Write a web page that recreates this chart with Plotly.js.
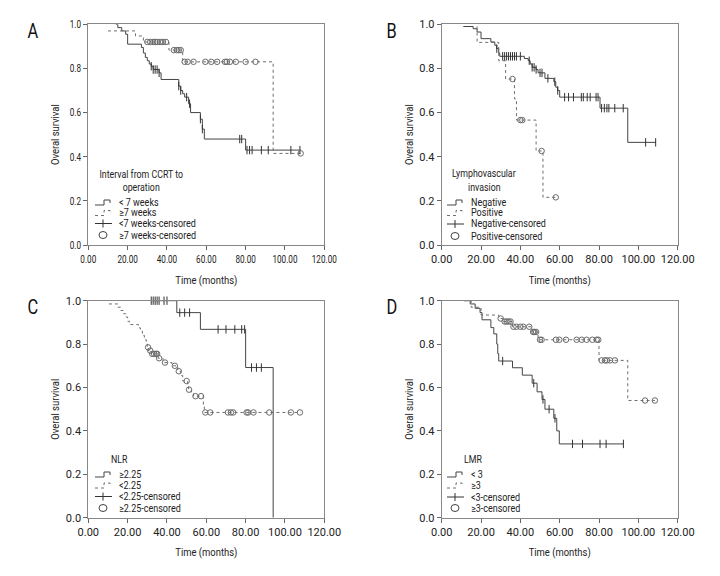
<!DOCTYPE html>
<html><head><meta charset="utf-8">
<script src="https://cdn.plot.ly/plotly-3.0.1.min.js"></script>
<style>html,body{margin:0;padding:0;background:#fff}#chart{width:720px;height:576px}</style>
</head><body><div id="chart"></div>
<script>
// ---------- Panel A: Interval from CCRT to operation ----------
const A_lt7_t = [14, 15, 17, 19, 20, 27, 28, 29, 30, 31, 32, 33, 36, 37, 46, 47, 48, 49, 51, 52, 57, 58, 59, 80, 108];
const A_lt7_s = [1.0, 0.985, 0.97, 0.955, 0.91, 0.895, 0.87, 0.85, 0.835, 0.82, 0.81, 0.795, 0.78, 0.75, 0.72, 0.70, 0.685, 0.67, 0.64, 0.60, 0.57, 0.525, 0.48, 0.43, 0.43];
const A_lt7_cens = [32, 33, 34, 35, 36, 46, 47, 50, 51.5, 57, 58, 77, 78, 80.7, 82, 83.3, 88, 91.5, 103, 107.6];
const A_ge7_t = [10, 24, 28, 41, 48, 94, 108];
const A_ge7_s = [0.97, 0.947, 0.92, 0.883, 0.83, 0.415, 0.415];
const A_ge7_cens = [30, 31.5, 33, 34, 35, 36.5, 38, 39.5, 43.5, 45, 46, 47, 49, 50.5, 53.5, 59.5, 62.5, 65.5, 69.5, 70.5, 72, 75, 80, 85, 108];

// ---------- Panel B: Lymphovascular invasion ----------
const B_neg_t = [11, 16, 18, 20, 25, 27, 28, 29, 29.5, 42, 44, 45, 46, 48, 49, 52.5, 57, 58, 59, 60, 80.5, 94.6, 109];
const B_neg_s = [0.99, 0.98, 0.965, 0.935, 0.92, 0.905, 0.89, 0.87, 0.855, 0.845, 0.835, 0.82, 0.805, 0.795, 0.78, 0.755, 0.74, 0.715, 0.70, 0.67, 0.62, 0.465, 0.465];
const B_neg_cens = [28, 31, 32, 33, 34, 35, 36, 37, 38, 40, 44.5, 46, 47, 48, 50, 51, 54, 57.5, 59, 62.5, 64.5, 67, 71, 72, 74, 75.5, 78.5, 79.5, 81.3, 82.7, 84, 85, 88, 92.3, 103.7, 108.8];
const B_pos_t = [18, 18, 29, 32.5, 37, 38, 48, 51.5, 58];
const B_pos_s = [0.99, 0.918, 0.835, 0.752, 0.662, 0.566, 0.426, 0.216, 0.216];
const B_pos_cens = [36, 40, 41, 50.8, 58];

// ---------- Panel C: NLR ----------
const C_hi_t = [32, 45, 57, 80, 94];
const C_hi_s = [1.0, 0.945, 0.868, 0.692, 0.0];
const C_hi_cens = [32, 33, 34, 35, 36, 38.5, 40, 46.5, 49, 51.5, 66, 70, 74.5, 78, 79.5, 83, 85.5, 88];
const C_lo_t = [10.5, 15, 16.5, 18, 19, 20, 21, 25.5, 26.5, 27.5, 28.5, 29.5, 30, 30.5, 32, 35.5, 38, 42.5, 45.5, 47, 48, 50.5, 51, 52.5, 53.5, 58.5, 59, 108];
const C_lo_s = [0.985, 0.97, 0.955, 0.94, 0.925, 0.905, 0.89, 0.875, 0.86, 0.84, 0.82, 0.80, 0.785, 0.77, 0.755, 0.735, 0.715, 0.70, 0.675, 0.655, 0.63, 0.615, 0.59, 0.575, 0.56, 0.52, 0.485, 0.485];
const C_lo_cens = [30.4, 31.5, 32.5, 33.5, 34.5, 35, 36, 39, 44, 46, 50, 51.2, 54.5, 57.3, 59.5, 62, 71, 72.5, 73.7, 80.5, 81.3, 84, 92, 103, 107.6];

// ---------- Panel D: LMR ----------
const D_lo_t = [11.5, 14.5, 17, 19.5, 20.5, 25, 26.5, 28, 28.5, 29, 36, 41, 46, 48.5, 51, 52.5, 57, 58.5, 59.8, 92.4];
const D_lo_s = [1.0, 0.985, 0.965, 0.945, 0.912, 0.876, 0.847, 0.80, 0.756, 0.722, 0.691, 0.657, 0.62, 0.58, 0.545, 0.50, 0.458, 0.40, 0.34, 0.34];
const D_lo_cens = [31, 46.8, 51.5, 54.6, 57.6, 66.5, 71.6, 80.5, 83.6, 92.4];
const D_hi_t = [11.5, 15, 20, 29, 31, 36, 46, 49, 80, 94.6, 108.4];
const D_hi_s = [1.0, 0.97, 0.934, 0.918, 0.904, 0.88, 0.856, 0.82, 0.725, 0.54, 0.54];
const D_hi_cens = [30, 32, 33, 34, 35, 36.5, 38, 40, 41.5, 44.5, 46.5, 47.2, 48, 50, 50.8, 58.1, 59.8, 63.2, 68.6, 71.2, 73.7, 76.6, 78.8, 79.6, 81.3, 83, 84, 85.6, 88.1, 103.4, 108.4];

// ---------- Labels ----------
const panelLetters = ["A", "B", "C", "D"];
const legendTitles = [["Interval from CCRT to", "operation"], ["Lymphovascular", "invasion"], ["NLR"], ["LMR"]];
const legendLabels = [
  ["< 7 weeks", "≥7 weeks", "<7 weeks-censored", "≥7 weeks-censored"],
  ["Negative", "Positive", "Negative-censored", "Positive-censored"],
  ["≥2.25", "<2.25", "<2.25-censored", "≥2.25-censored"],
  ["< 3", "≥3", "<3-censored", "≥3-censored"]
];
const xTickVals = [0, 20, 40, 60, 80, 100, 120];
const yTickVals = [0, 0.2, 0.4, 0.6, 0.8, 1.0];
const xTitle = "Time (months)";
const yTitle = "Overal survival";

// ---------- Build ----------
const FONT = "Roboto, 'Liberation Sans', sans-serif";
const W = 720, H = 576;
const px = x => x / W, py = y => 1 - y / H;

function survAt(t, ts, ss) {
  let v = ss[0];
  for (let i = 0; i < ts.length; i++) { if (ts[i] <= t) v = ss[i]; }
  return v;
}

const panels = [
  {solid: [A_lt7_t, A_lt7_s, A_lt7_cens], dotted: [A_ge7_t, A_ge7_s, A_ge7_cens]},
  {solid: [B_neg_t, B_neg_s, B_neg_cens], dotted: [B_pos_t, B_pos_s, B_pos_cens]},
  {solid: [C_hi_t, C_hi_s, C_hi_cens], dotted: [C_lo_t, C_lo_s, C_lo_cens]},
  {solid: [D_lo_t, D_lo_s, D_lo_cens], dotted: [D_hi_t, D_hi_s, D_hi_cens]}
];

const SOLID = "#444", DOT = "#6e6e6e", CIRC = "#6a6a6a";
const traces = [];
panels.forEach((p, i) => {
  const xa = i === 0 ? "x" : "x" + (i + 1), ya = i === 0 ? "y" : "y" + (i + 1);
  traces.push({x: p.solid[0], y: p.solid[1], xaxis: xa, yaxis: ya, type: "scatter", mode: "lines",
    line: {shape: "hv", color: SOLID, width: 1}, showlegend: false, cliponaxis: false});
  traces.push({x: p.dotted[0], y: p.dotted[1], xaxis: xa, yaxis: ya, type: "scatter", mode: "lines",
    line: {shape: "hv", color: DOT, width: 1, dash: "dot"}, showlegend: false, cliponaxis: false});
  traces.push({x: p.solid[2], y: p.solid[2].map(t => survAt(t, p.solid[0], p.solid[1])), xaxis: xa, yaxis: ya,
    type: "scatter", mode: "markers", marker: {symbol: "line-ns-open", size: 6, color: "#333", line: {color: "#333", width: 1}},
    showlegend: false, cliponaxis: false});
  traces.push({x: p.dotted[2], y: p.dotted[2].map(t => survAt(t, p.dotted[0], p.dotted[1])), xaxis: xa, yaxis: ya,
    type: "scatter", mode: "markers", marker: {symbol: "circle-open", size: 5.5, color: CIRC, line: {color: CIRC, width: 1}},
    showlegend: false, cliponaxis: false});
});

const xDomL = [px(88.3), px(324.3)], xDomR = [px(441.7), px(677.7)];
const yDomT = [py(245), py(24.3)], yDomB = [py(517.7), py(300.7)];
const doms = [[xDomL, yDomT], [xDomR, yDomT], [xDomL, yDomB], [xDomR, yDomB]];

const layout = {
  width: W, height: H, margin: {l: 0, r: 0, t: 0, b: 0}, paper_bgcolor: "#fff", plot_bgcolor: "#fff",
  showlegend: false, font: {family: FONT, size: 11, color: "#222"}, annotations: [], shapes: []
};
doms.forEach((d, i) => {
  const s = i === 0 ? "" : String(i + 1);
  layout["xaxis" + s] = {domain: d[0], anchor: "y" + s, range: [0, 120], tickvals: xTickVals, tickformat: ".2f",
    ticks: "outside", ticklen: 4, tickcolor: "#666", showline: true, mirror: true, linecolor: "#888", linewidth: 1,
    showgrid: false, zeroline: false, tickfont: {family: FONT, size: 11, color: "#222"},
    title: {text: xTitle, font: {family: FONT, size: 11.5, color: "#222"}, standoff: 10}, fixedrange: true};
  layout["yaxis" + s] = {domain: d[1], anchor: "x" + s, range: [0, 1], tickvals: yTickVals, tickformat: ".1f",
    ticks: "outside", ticklen: 4, tickcolor: "#666", showline: true, mirror: true, linecolor: "#888", linewidth: 1,
    showgrid: false, zeroline: false, tickfont: {family: FONT, size: 11, color: "#222"},
    title: {text: yTitle, font: {family: FONT, size: 11.5, color: "#222"}, standoff: 3}, fixedrange: true};
});

const annK = [];   // horizontal condensing factor for each annotation
const letterPos = [[33, 31], [392, 31], [33, 307], [392, 307]];
panelLetters.forEach((L, i) => {
  layout.annotations.push({text: L, xref: "paper", yref: "paper", x: px(letterPos[i][0]), y: py(letterPos[i][1]),
    xanchor: "center", yanchor: "middle", showarrow: false, font: {family: FONT, size: 21, color: "#111"}});
  annK.push(0.78);
});

const legCfg = [
  {sx: 95, tx: 117, title: [141, [174.5, 187.5], "center"], rows: [202, 212.5, 223.5, 235]},
  {sx: 447, tx: 469, title: [484, [174, 187.5], "center"], rows: [202, 212.5, 224, 236]},
  {sx: 95, tx: 117, title: [109, [459], "left"], rows: [474, 485, 496.5, 508]},
  {sx: 447, tx: 469, title: [462, [459], "left"], rows: [474, 485, 497, 508]}
];
legCfg.forEach((c, i) => {
  legendTitles[i].forEach((line, k) => {
    layout.annotations.push({text: line, xref: "paper", yref: "paper", x: px(c.title[0]), y: py(c.title[1][k]),
      xanchor: c.title[2], yanchor: "middle", showarrow: false, font: {family: FONT, size: 11, color: "#222"}});
    annK.push(0.8);
  });
  legendLabels[i].forEach((lab, j) => {
    layout.annotations.push({text: lab, xref: "paper", yref: "paper", x: px(c.tx), y: py(c.rows[j]),
      xanchor: "left", yanchor: "middle", showarrow: false, font: {family: FONT, size: 10, color: "#222"}});
    annK.push(0.9);
  });
  const x0 = c.sx, x1 = c.sx + 15, xm = c.sx + 9;
  const stepPath = (y) => `M${px(x0)},${py(y + 3)} L${px(xm)},${py(y + 3)} L${px(xm)},${py(y - 2)} L${px(x1)},${py(y - 2)} L${px(x1)},${py(y + 1)}`;
  layout.shapes.push({type: "path", xref: "paper", yref: "paper", path: stepPath(c.rows[0]), line: {color: SOLID, width: 1}});
  layout.shapes.push({type: "path", xref: "paper", yref: "paper", path: stepPath(c.rows[1]), line: {color: DOT, width: 1, dash: "dot"}});
  const y2 = c.rows[2];
  layout.shapes.push({type: "line", xref: "paper", yref: "paper", x0: px(x0), x1: px(x1 + 2), y0: py(y2), y1: py(y2), line: {color: "#333", width: 1}});
  layout.shapes.push({type: "line", xref: "paper", yref: "paper", x0: px(x0 + 8), x1: px(x0 + 8), y0: py(y2 - 4), y1: py(y2 + 4), line: {color: "#333", width: 1}});
  const y3 = c.rows[3];
  layout.shapes.push({type: "circle", xref: "paper", yref: "paper", x0: px(x0 + 4), x1: px(x0 + 12), y0: py(y3 - 3.5), y1: py(y3 + 3.5), line: {color: "#444", width: 1}});
});

// condense glyphs horizontally to imitate the narrow typeface of the original
function squeeze(t, k, leftAnchored) {
  const L = t.getComputedTextLength();
  if (!(L > 0)) return;
  t.setAttribute("textLength", (L * k).toFixed(2));
  t.setAttribute("lengthAdjust", "spacingAndGlyphs");
  if (leftAnchored) t.setAttribute("transform", `translate(${(-(1 - k) * L / 2).toFixed(2)},0)`);
}

Plotly.newPlot("chart", traces, layout, {displayModeBar: false, staticPlot: true}).then(gd => {
  gd.querySelectorAll("g.annotation").forEach(g => {
    const idx = +g.getAttribute("data-index");
    const ann = layout.annotations[idx];
    const t = g.querySelector("text");
    if (t && ann) squeeze(t, annK[idx], ann.xanchor === "left");
  });
  gd.querySelectorAll(".xtick text, .ytick text").forEach(t => squeeze(t, 0.74, false));
  gd.querySelectorAll(".g-xtitle text, .g-x2title text, .g-x3title text, .g-x4title text, .g-ytitle text, .g-y2title text, .g-y3title text, .g-y4title text")
    .forEach(t => squeeze(t, 0.82, false));
});
</script>
</body></html>
